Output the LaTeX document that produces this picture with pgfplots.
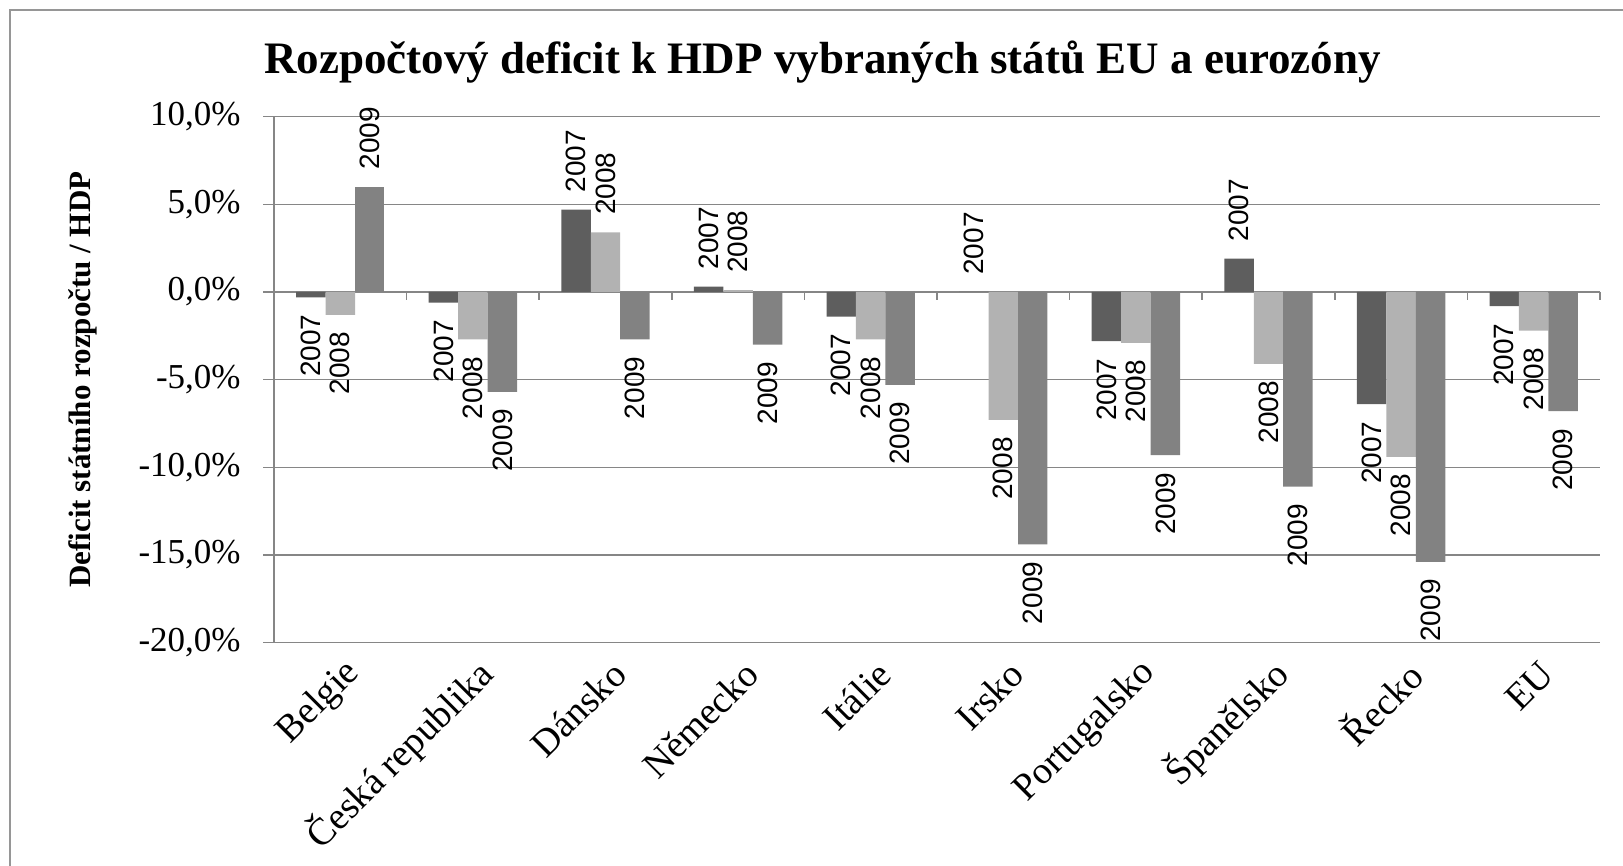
\documentclass[border=0pt]{standalone}
\usepackage{pgfplots}
\pgfplotsset{compat=1.18}
\usepackage{pgfplotstable}
\usepackage{fontspec}
\setmainfont{Liberation Serif}
\newfontfamily\arialfont{Liberation Sans}
\definecolor{c07}{RGB}{94,94,94}
\definecolor{c08}{RGB}{178,178,178}
\definecolor{c09}{RGB}{130,130,130}
\definecolor{gridc}{RGB}{134,134,134}
\definecolor{framec}{RGB}{150,150,150}

\pgfplotstableread{
idx y2007 y2008 y2009
0 -0.3 -1.3 6.0
1 -0.6 -2.7 -5.7
2 4.7 3.4 -2.7
3 0.3 0.1 -3.0
4 -1.4 -2.7 -5.3
5 0.0 -7.3 -14.4
6 -2.8 -2.9 -9.3
7 1.9 -4.1 -11.1
8 -6.4 -9.4 -15.4
9 -0.8 -2.2 -6.8
}\datatable

\begin{document}
\begin{tikzpicture}
\useasboundingbox (0,0) rectangle (811.5pt,433pt);
\draw[framec, line width=1pt] (5pt,-10pt) -- (5pt,428pt) -- (830pt,428pt);
\begin{axis}[
  at={(137pt,111.7pt)}, anchor=south west,
  scale only axis, width=663pt, height=262.95pt,
  xmin=-0.5, xmax=9.5, ymin=-20, ymax=10,
  ybar, bar width=14.73pt,
  clip=false,
  axis x line*=bottom, axis y line*=left,
  axis line style={gridc, line width=0.75pt, -},
  ymajorgrids, grid style={gridc, line width=0.75pt},
  ytick={-20,-15,-10,-5,0,5,10},
  yticklabels={{\mbox{-20,0\%}},{\mbox{-15,0\%}},{\mbox{-10,0\%}},{\mbox{-5,0\%}},{\mbox{0,0\%}},{\mbox{5,0\%}},{\mbox{10,0\%}}},
  yticklabel style={font=\fontsize{17.5}{20}\selectfont, anchor=east, inner sep=0pt, xshift=-11pt},
  tick align=outside, major tick length=5.5pt,
  ytick style={gridc, line width=0.75pt},
  xtick={0,1,2,3,4,5,6,7,8,9},
  xticklabels={Belgie,Česká republika,Dánsko,Německo,Itálie,Irsko,Portugalsko,Španělsko,Řecko,EU},
  xtick style={draw=none},
  xticklabel style={rotate=45, anchor=east, inner sep=0pt, font=\fontsize{19}{22}\selectfont, yshift=-10pt},
  ylabel={Deficit státního rozpočtu / HDP},
  every axis y label/.style={at={(axis description cs:-0.144,0.5)}, rotate=90, anchor=center, font=\bfseries\fontsize{15.5}{18}\selectfont},
  title={Rozpočtový deficit k HDP vybraných států EU a eurozóny},
  every axis title/.style={at={(axis description cs:0.4137,1.0822)}, anchor=base, font=\bfseries\fontsize{22.5}{26}\selectfont},
  every node near coord/.append style={rotate=90, font=\arialfont\fontsize{14}{16}\selectfont, inner xsep=8.5pt, inner ysep=0pt, text=black},
]
\addplot[fill=c07, draw=none, bar shift=-14.73pt, restrict y to domain=0:100, nodes near coords={2007}, every node near coord/.append style={anchor=west}] table[x=idx,y=y2007]{\datatable};
\addplot[fill=c07, draw=none, bar shift=-14.73pt, restrict y to domain=-100:-0.001, nodes near coords={2007}, every node near coord/.append style={anchor=east}] table[x=idx,y=y2007]{\datatable};
\addplot[fill=c08, draw=none, bar shift=0pt, restrict y to domain=0:100, nodes near coords={2008}, every node near coord/.append style={anchor=west}] table[x=idx,y=y2008]{\datatable};
\addplot[fill=c08, draw=none, bar shift=0pt, restrict y to domain=-100:-0.001, nodes near coords={2008}, every node near coord/.append style={anchor=east}] table[x=idx,y=y2008]{\datatable};
\addplot[fill=c09, draw=none, bar shift=14.73pt, restrict y to domain=0:100, nodes near coords={2009}, every node near coord/.append style={anchor=west}] table[x=idx,y=y2009]{\datatable};
\addplot[fill=c09, draw=none, bar shift=14.73pt, restrict y to domain=-100:-0.001, nodes near coords={2009}, every node near coord/.append style={anchor=east}] table[x=idx,y=y2009]{\datatable};
\pgfplotsinvokeforeach{0.5,1.5,2.5,3.5,4.5,5.5,6.5,7.5,8.5,9.5}{
  \draw[gridc, line width=0.75pt] (axis cs:#1,0) -- ([yshift=-4pt]axis cs:#1,0);
}
\end{axis}
\end{tikzpicture}
\end{document}
